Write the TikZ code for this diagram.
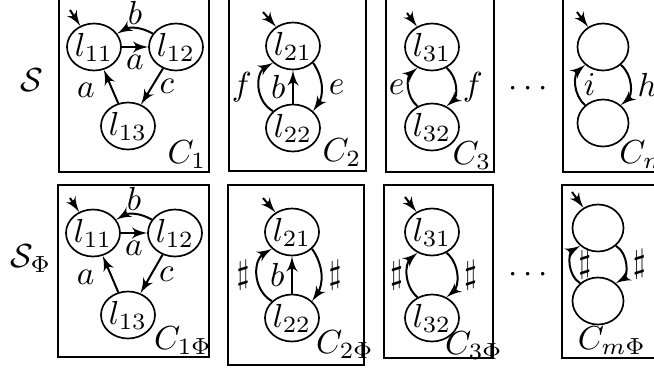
\documentclass[tikz,border=0pt]{standalone}
\usetikzlibrary{shapes,arrows,fit}
\tikzstyle{loc} = [ellipse, draw, line width=0.5pt, minimum width=15.3pt, minimum height=14.1pt, inner sep=0pt]
\tikzstyle{comp} = [rectangle, draw, line width=0.6pt, inner sep=0pt]
\tikzstyle{line} = [draw, line width=0.6pt, -latex']
\tikzstyle{lab} = [inner sep=2pt]

\begin{document}
\begin{tikzpicture}[x=0.3pt, y=0.3pt, node distance=24.6pt]
	\useasboundingbox (0,0) rectangle (654,-368);

	% S
	\node (S) at (32,-80) {$\mathcal{S}$};

	\node [comp, fit={(59,1) (209,-172)}] (C1) {};
	\node [loc] (l11) at (94,-47) {$l_{11}$};
	\node [loc, right of=l11] (l12) {$l_{12}$};
	\node [loc] (l13) at (128,-126) {$l_{13}$};
	\node (C1lab) at (187,-155) {$C_1$};
	\coordinate (i1) at (70,-10);
	\path [line] (i1) -- (l11);
	\path [line] (l11) -- node[lab, below] {$a$} (l12);
	\path [line] (l12) to[bend right=30] node[above, inner sep=1pt] {$b$} (l11);
	\path [line] (l13) -- node[lab, left=3pt, pos=0.4] {$a$} (l11);
	\path [line] (l12) -- node[lab, right] {$c$} (l13);

	\node [comp, fit={(229,1) (366,-171)}] (C2) {};
	\node [loc] (l21) at (293,-46) {$l_{21}$};
	\node [loc, below of=l21] (l22) {$l_{22}$};
	\node (C2lab) at (342,-153) {$C_2$};
	\coordinate (i2) at (263,-12);
	\path [line] (i2) -- (l21);
	\path [line] (l22) -- node[lab, left] {$b$} (l21);
	\path [line] (l22.140) to[bend left=60, looseness=1.1] node[lab, left] {$f$} (l21.220);
	\path [line] (l21.320) to[bend left=35] node[lab, right] {$e$} (l22.40);

	\node [comp, fit={(386,1) (494,-172)}] (C3) {};
	\node [loc] (l31) at (432,-47) {$l_{31}$};
	\node [loc, below of=l31, node distance=24pt] (l32) {$l_{32}$};
	\node (C3lab) at (472,-156) {$C_3$};
	\coordinate (i3) at (407,-13);
	\path [line] (i3) -- (l31);
	\path [line] (l32.125) to[bend left=50] node[left, inner sep=1pt] {$e$} (l31.235);
	\path [line] (l31.305) to[bend left=50] node[lab, right] {$f$} (l32.55);

	\node (dots) at (528,-89) {$\cdots$};

	\node [comp, fit={(563,1) (670,-172)}] (Cm) {};
	\node [loc] (lm1) at (603,-47) {};
	\node [loc, below of=lm1, node distance=22.8pt] (lm2) {};
	\node (Cmlab) at (644,-155) {$C_m$};
	\coordinate (im) at (577,-12);
	\path [line] (im) -- (lm1);
	\path [line] (lm2.135) to[bend left=50] node[lab, right] {$i$} (lm1.225);
	\path [line] (lm1.315) to[bend left=50] node[lab, right] {$h$} (lm2.45);

	% S_Phi
	\node (SP) at (31,-259) {$\mathcal{S}_\Phi$};

	\node [comp, fit={(58,-185) (209,-357)}] (C1P) {};
	\node [loc] (p11) at (93,-233) {$l_{11}$};
	\node [loc, right of=p11] (p12) {$l_{12}$};
	\node [loc] (p13) at (128,-315) {$l_{13}$};
	\node (C1Plab) at (183,-341) {$C_{1\Phi}$};
	\coordinate (j1) at (70,-198);
	\path [line] (j1) -- (p11);
	\path [line] (p11) -- node[lab, below] {$a$} (p12);
	\path [line] (p12) to[bend right=30] node[above, inner sep=1pt] {$b$} (p11);
	\path [line] (p13) -- node[lab, left=3pt, pos=0.4] {$a$} (p11);
	\path [line] (p12) -- node[lab, right] {$c$} (p13);

	\node [comp, fit={(228,-185) (364,-365)}] (C2P) {};
	\node [loc] (p21) at (292,-232) {$l_{21}$};
	\node [loc, below of=p21, node distance=25.8pt] (p22) {$l_{22}$};
	\node (C2Plab) at (345,-345) {$C_{2\Phi}$};
	\coordinate (j2) at (263,-198);
	\path [line] (j2) -- (p21);
	\path [line] (p22) -- node[lab, left] {$b$} (p21);
	\path [line] (p22.140) to[bend left=60, looseness=1.1] node[lab, left] {$\sharp$} (p21.220);
	\path [line] (p21.320) to[bend left=35] node[lab, right] {$\sharp$} (p22.40);

	\node [comp, fit={(384,-185) (493,-358)}] (C3P) {};
	\node [loc] (p31) at (432,-232) {$l_{31}$};
	\node [loc, below of=p31, node distance=25.8pt] (p32) {$l_{32}$};
	\node (C3Plab) at (474,-346) {$C_{3\Phi}$};
	\coordinate (j3) at (405,-197);
	\path [line] (j3) -- (p31);
	\path [line] (p32.125) to[bend left=50] node[left, inner sep=1pt] {$\sharp$} (p31.235);
	\path [line] (p31.305) to[bend left=50] node[lab, right] {$\sharp$} (p32.55);

	\node (dotsP) at (528,-275) {$\cdots$};

	\node [comp, fit={(562,-185) (670,-358)}] (CmP) {};
	\node [loc] (pm1) at (598,-228) {};
	\node [loc, below of=pm1, node distance=21.9pt] (pm2) {};
	\node (CmPlab) at (612,-341) {$C_{m\Phi}$};
	\coordinate (jm) at (572,-192);
	\path [line] (jm) -- (pm1);
	\path [line] (pm2.135) to[bend left=60] node[lab, right] {$\sharp$} (pm1.225);
	\path [line] (pm1.315) to[bend left=60] node[lab, right] {$\sharp$} (pm2.45);
\end{tikzpicture}
\end{document}
